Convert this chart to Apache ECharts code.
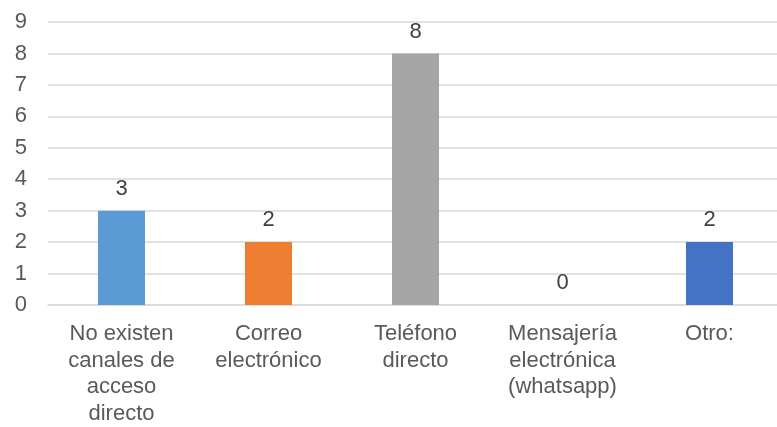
<!DOCTYPE html>
<html>
<head>
<meta charset="utf-8">
<script src="https://cdn.jsdelivr.net/npm/echarts@6/dist/echarts.min.js"></script>
<style>
html,body{margin:0;padding:0;background:#fff;overflow:hidden;width:777px;height:427px;}
#chart{width:790px;height:427px;}
</style>
</head>
<body>
<div id="chart"></div>
<script>
var categories = ["No existen\ncanales de\nacceso\ndirecto", "Correo\nelectrónico", "Teléfono\ndirecto", "Mensajería\nelectrónica\n(whatsapp)", "Otro:"];
var values = [3, 2, 8, 0, 2];
var barColors = ["#5b9bd5", "#ed7d31", "#a5a5a5", "#ffc000", "#4472c4"];
var yTicks = [0, 1, 2, 3, 4, 5, 6, 7, 8, 9];

var chart = echarts.init(document.getElementById('chart'), null, {renderer: 'canvas'});
var font = 'Liberation Sans, Arial, sans-serif';
chart.setOption({
  animation: false,
  backgroundColor: '#ffffff',
  grid: {left: 48, top: 22, width: 735, height: 285, containLabel: false},
  xAxis: {
    type: 'category',
    data: categories,
    axisLine: {show: true, lineStyle: {color: '#d9d9d9', width: 1.5}},
    axisTick: {show: false},
    axisLabel: {
      interval: 0,
      margin: 16,
      color: '#595959',
      fontFamily: font,
      fontSize: 22,
      lineHeight: 26.5
    }
  },
  yAxis: {
    type: 'value',
    min: yTicks[0],
    max: yTicks[yTicks.length - 1],
    interval: 1,
    axisLine: {show: false},
    axisTick: {show: false},
    splitLine: {lineStyle: {color: '#d9d9d9', width: 1.5}},
    axisLabel: {
      margin: 21,
      color: '#595959',
      fontFamily: font,
      fontSize: 22
    }
  },
  series: [{
    type: 'bar',
    barWidth: 47,
    data: values.map(function (v, i) {
      return {value: v, itemStyle: {color: barColors[i]}};
    }),
    label: {
      show: true,
      position: 'top',
      distance: 11,
      color: '#404040',
      fontFamily: font,
      fontSize: 22
    }
  }]
});
</script>
</body>
</html>
